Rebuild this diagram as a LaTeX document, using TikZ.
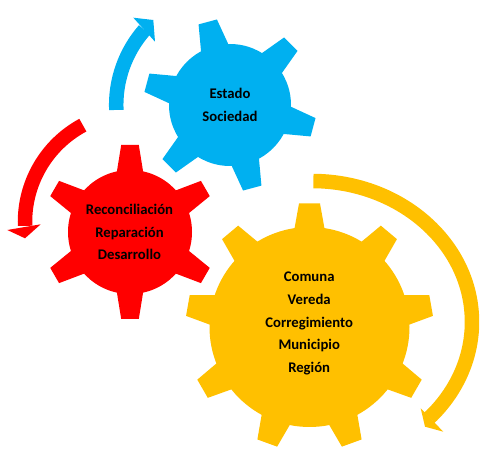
\documentclass[tikz,border=0pt]{standalone}
\usepackage{fontspec}
\setmainfont{Carlito}
\definecolor{gblue}{HTML}{00B0F0}
\definecolor{gred}{HTML}{FF0000}
\definecolor{gyellow}{HTML}{FFC000}
\begin{document}
\begin{tikzpicture}[x=1pt,y=1pt,
  lbl/.style={align=center, font=\fontsize{14.7}{22.7}\selectfont\bfseries, text=black, inner sep=0pt},
  band/.style={line width=14.5pt, line cap=butt}]
\useasboundingbox (0,0) rectangle (488,-470);

% ---- blue gear ----
\coordinate (cb) at (230,-105);
\fill[gblue] (cb) circle[radius=61];
\foreach \a in {105,165,...,405}
  \fill[gblue, shift={(230,-105)}, rotate=\a] (54,-15) -- (86,-9.5) -- (86,9.5) -- (54,15) -- cycle;

% ---- red gear ----
\coordinate (cr) at (130,-232);
\fill[gred] (cr) circle[radius=62];
\foreach \a in {90,150,...,390}
  \fill[gred, shift={(130,-232)}, rotate=\a] (55,-14) -- (87,-8.8) -- (87,8.8) -- (55,14) -- cycle;

% ---- yellow gear ----
\coordinate (cy) at (309.5,-327);
\fill[gyellow] (cy) circle[radius=100];
\foreach \a in {90,130,...,410}
  \fill[gyellow, shift={(309.5,-327)}, rotate=\a] (93,-16) -- (123.5,-10.5) -- (123.5,10.5) -- (93,16) -- cycle;

% ---- blue arrow ----
\draw[gblue, band] (230,-105) ++(182.5:113.8) arc[start angle=182.5, end angle=138.7, radius=113.8];
\fill[gblue] (133.3,-17.7) -- (153.3,-20) -- (155,-41.7) -- cycle;

% ---- red arrow ----
\draw[gred, band] (135,-222) ++(118.3:110) arc[start angle=118.3, end angle=182, radius=110];
\fill[gred] (7.3,-230) -- (25,-238.3) -- (40.7,-224.3) -- cycle;

% ---- yellow arrow ----
\draw[gyellow, band] (312,-322) ++(89.5:160 and 141) arc[start angle=89.5, end angle=-42.8, x radius=160, y radius=141];
\fill[gyellow] (420.7,-408.3) -- (425,-426.7) -- (443.3,-431.7) -- cycle;

% ---- labels ----
\node[lbl] (tb) at (230,-105) {Estado\\Sociedad};
\node[lbl] (tr) at (129.5,-232) {Reconciliación\\Reparación\\Desarrollo};
\node[lbl] (ty) at (309.2,-323.5) {Comuna\\Vereda\\Corregimiento\\Municipio\\Región};
\end{tikzpicture}
\end{document}
